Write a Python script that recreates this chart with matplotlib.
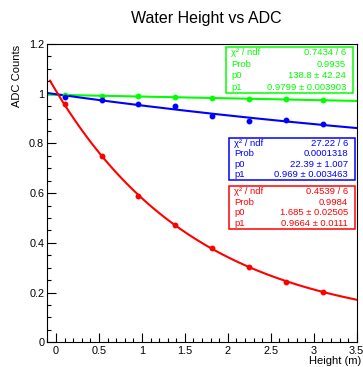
import matplotlib
matplotlib.use("Agg")
import matplotlib.pyplot as plt
import numpy as np
from matplotlib.ticker import MultipleLocator, FuncFormatter

plt.rcParams["font.family"] = ["Liberation Sans", "DejaVu Sans"]

# data
height = [0.10, 0.53, 0.96, 1.39, 1.82, 2.25, 2.68, 3.11]
adc_green = [0.996, 0.989, 0.990, 0.986, 0.984, 0.978, 0.978, 0.973]
adc_blue = [0.988, 0.976, 0.958, 0.950, 0.909, 0.890, 0.894, 0.878]
adc_red = [0.957, 0.749, 0.590, 0.470, 0.379, 0.304, 0.243, 0.202]

stats_green = [("χ² / ndf", "0.7434 / 6"), ("Prob", "0.9935"),
               ("p0", "138.8 ± 42.24"), ("p1", "0.9799 ± 0.003903")]
stats_blue = [("χ² / ndf", "27.22 / 6"), ("Prob", "0.0001318"),
              ("p0", "22.39 ± 1.007"), ("p1", "0.969 ± 0.003463")]
stats_red = [("χ² / ndf", "0.4539 / 6"), ("Prob", "0.9984"),
             ("p0", "1.685 ± 0.02505"), ("p1", "0.9664 ± 0.0111")]

W, H = 363, 367
fig = plt.figure(figsize=(W / 100, H / 100), dpi=100)
ax = fig.add_axes([47 / W, 1 - 342.3 / H, (356.7 - 47) / W, (342.3 - 44) / H])

xlim = (-0.105, 3.5)


def fit_exp(x, y):
    """least squares a*exp(-k x) + c, scanning k"""
    x = np.asarray(x)
    y = np.asarray(y)
    best = None
    for k in np.linspace(0.005, 2.0, 4000):
        A = np.column_stack([np.exp(-k * x), np.ones_like(x)])
        coef, *_ = np.linalg.lstsq(A, y, rcond=None)
        r = np.sum((A @ coef - y) ** 2)
        if best is None or r < best[0]:
            best = (r, k, coef)
    _, k, (a, c) = best
    return lambda t: a * np.exp(-k * t) + c


series = [(adc_green, "#00ff00", xlim[0]), (adc_blue, "#0000ff", xlim[0]),
          (adc_red, "#ff0000", -0.07)]
for y, c, x0 in series:
    f = fit_exp(height, y)
    xx = np.linspace(x0, xlim[1], 300)
    ax.plot(xx, f(xx), color=c, lw=1.5, zorder=2)
    ax.plot(height, y, "o", color=c, ms=3.2, mec=c, zorder=3)

ax.set_xlim(*xlim)
ax.set_ylim(0, 1.2)

ax.xaxis.set_major_locator(MultipleLocator(0.5))
ax.xaxis.set_minor_locator(MultipleLocator(0.1))
ax.yaxis.set_major_locator(MultipleLocator(0.2))
ax.yaxis.set_minor_locator(MultipleLocator(0.05))
fmt = FuncFormatter(lambda v, p: f"{v:g}")
ax.xaxis.set_major_formatter(fmt)
ax.yaxis.set_major_formatter(fmt)

kw = {"direction": "in", "top": False, "right": False, "width": 0.8}
ax.tick_params(which="major", length=6.3, labelsize=7.8, **kw)
ax.tick_params(which="minor", length=3.2, **kw)
ax.tick_params(axis="y", which="major", pad=2)
ax.tick_params(axis="x", which="major", pad=3)
for s in ax.spines.values():
    s.set_linewidth(0.8)

fig.text(206 / W, 1 - 19 / H, "Water Height vs ADC", ha="center", va="center",
         fontsize=11.5)
fig.text(17 / W, 1 - 45 / H, "ADC Counts", rotation=90, ha="center", va="top",
         fontsize=8)
fig.text(361 / W, 1 - 361 / H, "Height (m)", ha="right", va="center", fontsize=8)


def stats_box(rows, color, left, right, top, bottom):
    box = plt.Rectangle((left / W, 1 - bottom / H), (right - left) / W,
                        (bottom - top) / H, transform=fig.transFigure,
                        facecolor="white", edgecolor=color, lw=1.1, zorder=5)
    fig.add_artist(box)
    step = (bottom - top) / len(rows)
    for i, (name, val) in enumerate(rows):
        yc = 1 - (top + step * (i + 0.5)) / H
        fig.text((left + 5) / W, yc, name, color=color, fontsize=6.8,
                 ha="left", va="center", zorder=6)
        fig.text((right - 7) / W, yc, val, color=color, fontsize=6.8,
                 ha="right", va="center", zorder=6)


stats_box(stats_green, "#00ff00", 226, 353, 47, 93)
stats_box(stats_blue, "#0000ff", 229, 355, 138, 180)
stats_box(stats_red, "#ff0000", 229, 355, 186, 229)

fig.savefig("out.png", dpi=100)
